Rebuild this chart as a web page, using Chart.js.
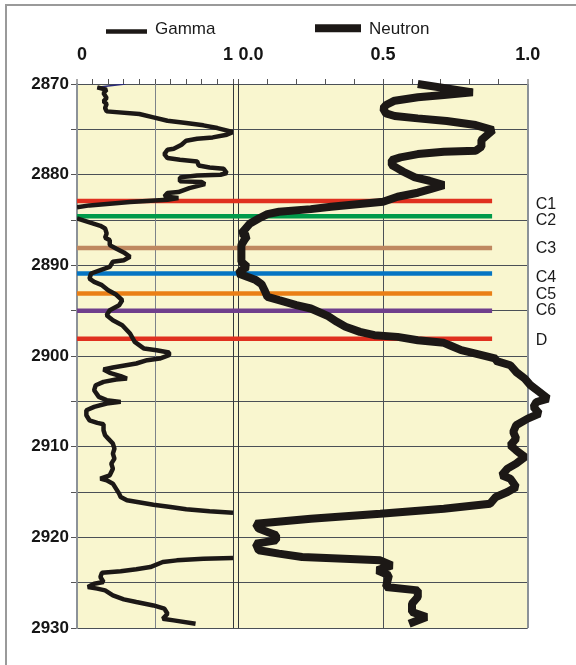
<!DOCTYPE html>
<html>
<head>
<meta charset="utf-8">
<script src="https://cdn.jsdelivr.net/npm/chart.js@4.4.0/dist/chart.umd.min.js"></script>
<style>
  html, body { margin: 0; padding: 0; background: #fff; }
  #wrap { position: relative; width: 576px; height: 665px; overflow: hidden; }
  #frame { position: absolute; left: 5px; top: 4px; width: 620px; height: 720px; border: 2px solid #9a9a9a; box-sizing: border-box; }
  #log-chart { position: absolute; left: 0; top: 0; }
</style>
</head>
<body>
<div id="wrap">
  <div id="frame"></div>
  <canvas id="log-chart" width="576" height="665"></canvas>
</div>
<script>
// depth axis
const depthTicks = [2870, 2875, 2880, 2885, 2890, 2895, 2900, 2905, 2910, 2915, 2920, 2925, 2930];
const gammaTicks = [0, 0.1, 0.2, 0.3, 0.4, 0.5, 0.6, 0.7, 0.8, 0.9, 1];
const neutronTicks = [0, 0.1, 0.2, 0.3, 0.4, 0.5, 0.6, 0.7, 0.8, 0.9, 1];

// gamma log (null = off scale)
const gammaDepth = [
  2870.37, 2870.63, 2870.99, 2871.55, 2871.91, 2872.21, 2872.65, 2873.02, 2873.31, 2873.68,
  2874.05, 2874.30, 2874.56, 2874.86, 2875.30, 2875.59, 2875.89, 2876.03, 2876.25, 2876.70,
  2877.14, 2877.25, 2877.73, 2878.17, 2878.35, 2878.54, 2878.98, 2879.20, 2879.35, 2879.82,
  2880.01, 2880.08, 2880.30, 2880.74, 2880.82, 2881.04, 2881.48, 2881.92, 2882.03, 2882.40,
  2882.58, 2882.77, 2883.02, 2883.39, 2883.61, 2884.20,
  2884.83, 2885.27, 2885.64, 2885.93, 2886.48, 2886.96, 2887.22, 2887.77, 2888.14, 2888.58,
  2889.06, 2889.43, 2889.61, 2890.17, 2890.53, 2890.90, 2891.46, 2891.82, 2892.19, 2892.74,
  2893.22, 2893.85, 2894.40, 2894.95, 2895.50, 2896.05, 2896.60, 2897.52, 2898.44, 2899.18,
  2899.36, 2899.62, 2899.91, 2900.28, 2900.46, 2900.83, 2901.27, 2901.49, 2901.86, 2902.23,
  2902.49, 2902.60, 2902.85, 2903.22, 2903.77, 2904.51, 2904.87, 2905.06, 2905.24, 2905.61,
  2905.98, 2906.53, 2907.09, 2907.38, 2907.53, 2908.19, 2908.74, 2909.11, 2909.66, 2910.21,
  2910.77, 2911.32, 2911.87, 2912.43, 2913.16, 2913.53, 2913.71, 2914.08, 2914.63, 2915.18,
  2915.55, 2915.92, 2916.40, 2916.65, 2916.91, 2917.13, 2917.28, 2919.80,
  2922.28, 2922.35, 2922.54, 2922.72, 2923.28, 2923.53, 2923.75, 2923.90, 2924.38, 2924.93,
  2925.11, 2925.48, 2925.66, 2925.85, 2926.40, 2926.84, 2927.14, 2927.51, 2927.87, 2928.43,
  2928.98, 2929.16, 2929.53
];
const gammaValue = [
  0.13, 0.19, 0.17, 0.19, 0.17, 0.19, 0.18, 0.19, 0.40, 0.49,
  0.58, 0.70, 0.81, 0.90, 1.00, 0.96, 0.87, 0.77, 0.70, 0.67,
  0.62, 0.58, 0.56, 0.58, 0.66, 0.77, 0.78, 0.85, 0.94, 0.96,
  0.92, 0.77, 0.66, 0.66, 0.80, 0.82, 0.72, 0.65, 0.58, 0.56,
  0.65, 0.58, 0.34, 0.08, 0.00, null,
  0.00, 0.08, 0.15, 0.18, 0.19, 0.18, 0.21, 0.21, 0.25, 0.30,
  0.34, 0.30, 0.23, 0.21, 0.15, 0.09, 0.08, 0.11, 0.16, 0.20,
  0.25, 0.29, 0.27, 0.21, 0.19, 0.23, 0.29, 0.34, 0.37, 0.43,
  0.51, 0.59, 0.59, 0.53, 0.45, 0.38, 0.23, 0.17, 0.21, 0.28,
  0.32, 0.25, 0.17, 0.12, 0.11, 0.14, 0.19, 0.28, 0.19, 0.11,
  0.06, 0.06, 0.08, 0.13, 0.17, 0.17, 0.18, 0.20, 0.23, 0.24,
  0.23, 0.24, 0.22, 0.23, 0.21, 0.15, 0.19, 0.23, 0.25, 0.27,
  0.28, 0.32, 0.49, 0.60, 0.70, 0.85, 1.00, null,
  1.00, 0.81, 0.64, 0.55, 0.47, 0.38, 0.28, 0.16, 0.15, 0.17,
  0.11, 0.07, 0.13, 0.18, 0.23, 0.30, 0.38, 0.49, 0.56, 0.58,
  0.55, 0.62, 0.76
];
const gammaTopDepth = [2870.37, 2870.0];
const gammaTopValue = [0.13, 0.31];

// neutron log
const neutronDepth = [
  2870.00, 2870.92, 2871.21, 2871.47, 2871.84, 2872.32, 2872.69, 2873.24, 2873.53, 2873.79,
  2874.08, 2874.53, 2875.08, 2875.63, 2876.18, 2876.92, 2877.36, 2877.47, 2877.73, 2878.09,
  2878.39, 2878.94, 2879.31, 2879.68, 2880.30, 2880.67, 2881.15, 2881.63, 2881.99, 2882.44,
  2882.99, 2883.54, 2883.80, 2884.09, 2884.35, 2884.83, 2885.38, 2886.11, 2886.48, 2886.78,
  2887.22, 2887.77, 2888.32, 2889.06, 2889.61, 2890.16, 2890.53, 2890.90, 2891.27, 2891.63,
  2892.08, 2892.74, 2893.47, 2893.84, 2894.39, 2894.76, 2895.61, 2896.23, 2896.78, 2897.34,
  2897.70, 2897.89, 2898.26, 2898.55, 2898.81, 2899.36, 2899.73, 2900.28, 2900.54, 2901.02,
  2901.76, 2902.49, 2903.23, 2903.96, 2904.70, 2905.07, 2905.62, 2906.35, 2906.91, 2907.64,
  2908.38, 2909.11, 2909.85, 2910.40, 2911.14, 2911.87, 2912.42, 2913.16, 2913.53, 2914.45,
  2915.00, 2915.55, 2916.29, 2916.84, 2917.39, 2917.94, 2918.49, 2919.04, 2919.78, 2920.33,
  2920.69, 2921.43, 2921.80, 2922.17, 2922.54, 2923.09, 2923.64, 2924.19, 2925.48, 2925.85,
  2926.58, 2927.32, 2928.24, 2928.79, 2929.52
];
const neutronValue = [
  0.62, 0.81, 0.71, 0.62, 0.54, 0.51, 0.50, 0.51, 0.54, 0.62,
  0.72, 0.82, 0.88, 0.86, 0.84, 0.84, 0.82, 0.71, 0.62, 0.56,
  0.53, 0.53, 0.55, 0.57, 0.61, 0.66, 0.71, 0.66, 0.62, 0.55,
  0.50, 0.32, 0.25, 0.14, 0.10, 0.07, 0.04, 0.02, 0.01, 0.03,
  0.02, 0.01, 0.01, 0.01, 0.01, 0.03, 0.01, 0.00, 0.03, 0.06,
  0.08, 0.09, 0.10, 0.14, 0.20, 0.25, 0.31, 0.34, 0.37, 0.42,
  0.47, 0.55, 0.62, 0.71, 0.73, 0.77, 0.82, 0.89, 0.89, 0.94,
  0.96, 0.99, 1.01, 1.04, 1.07, 1.03, 1.02, 1.04, 1.00, 0.96,
  0.95, 0.96, 0.94, 0.96, 0.99, 0.96, 0.93, 0.91, 0.94, 0.96,
  0.93, 0.89, 0.87, 0.71, 0.49, 0.25, 0.06, 0.07, 0.13, 0.13,
  0.06, 0.07, 0.14, 0.22, 0.49, 0.53, 0.48, 0.52, 0.51, 0.62,
  0.62, 0.60, 0.60, 0.65, 0.59
];

// formation markers (length in fraction of the track width)
const markerNames = ['C1', 'C2', 'C3', 'C4', 'C5', 'C6', 'D'];
const markerDepths = [2882.9, 2884.6, 2888.1, 2890.9, 2893.1, 2895.0, 2898.1];
const labelDepths = [2883.25, 2885.1, 2888.2, 2891.3, 2893.2, 2895.0, 2898.3];
const markerEnd = 0.921;
const markerColors = ['#e0301f', '#009a4a', '#bf8860', '#0575c3', '#ea7f16', '#6f3f8c', '#e0301f'];

const boldFont = { family: "'Liberation Sans', Arial, sans-serif", size: 17, weight: 'bold' };
const topFont = { family: "'Liberation Sans', Arial, sans-serif", size: 18, weight: 'bold' };

function gridColour(value, edgeColour) {
  if (value === 0) return edgeColour[0];
  if (value === 0.5) return edgeColour[1];
  if (value === 1) return edgeColour[2];
  return 'rgba(0,0,0,0)';
}

// yellow track background
const trackBackground = {
  id: 'trackBackground',
  beforeDraw(chart) {
    const { ctx, chartArea: a } = chart;
    ctx.save();
    ctx.fillStyle = '#f9f6cf';
    ctx.fillRect(a.left, a.top, a.right - a.left, a.bottom - a.top);
    ctx.restore();
  }
};

// legend with line samples, placed above the tracks
const lineLegend = {
  id: 'lineLegend',
  afterDraw(chart) {
    const ctx = chart.ctx;
    const entries = [
      { ds: chart.data.datasets[0], x: 106, y: 31.5, len: 41, textY: 29.5 },
      { ds: chart.data.datasets[2], x: 315, y: 28.2, len: 46, textY: 29.5 }
    ];
    ctx.save();
    ctx.font = "17px 'Liberation Sans', Arial, sans-serif";
    ctx.textBaseline = 'middle';
    entries.forEach(e => {
      ctx.strokeStyle = e.ds.borderColor;
      ctx.lineWidth = e.ds.borderWidth;
      ctx.lineCap = 'butt';
      ctx.beginPath();
      ctx.moveTo(e.x, e.y);
      ctx.lineTo(e.x + e.len, e.y);
      ctx.stroke();
      ctx.fillStyle = '#1a1a1a';
      ctx.fillText(e.ds.label, e.x + e.len + 8, e.textY);
    });
    ctx.restore();
  }
};

const datasets = [
  {
    label: 'Gamma',
    data: gammaDepth.map((d, i) => ({ x: gammaValue[i], y: d })),
    xAxisID: 'xg', yAxisID: 'y',
    borderColor: '#1c1816', borderWidth: 4.5, borderJoinStyle: 'bevel',
    pointRadius: 0, spanGaps: false, order: 1
  },
  {
    label: 'GammaTop',
    data: gammaTopDepth.map((d, i) => ({ x: gammaTopValue[i], y: d })),
    xAxisID: 'xg', yAxisID: 'y',
    borderColor: '#2a2a7a', borderWidth: 1.5,
    pointRadius: 0, order: 1
  },
  {
    label: 'Neutron',
    data: neutronDepth.map((d, i) => ({ x: neutronValue[i], y: d })),
    xAxisID: 'xn', yAxisID: 'y',
    borderColor: '#1c1816', borderWidth: 8, borderJoinStyle: 'bevel',
    pointRadius: 0, clip: false, order: 1
  }
];

markerNames.forEach((name, i) => {
  datasets.push({
    label: name,
    data: [{ x: 0, y: markerDepths[i] }, { x: markerEnd, y: markerDepths[i] }],
    xAxisID: 'xm', yAxisID: 'y',
    borderColor: markerColors[i], borderWidth: 4.5,
    borderCapStyle: 'butt', pointRadius: 0, order: 2
  });
});

new Chart(document.getElementById('log-chart'), {
  type: 'line',
  data: { datasets: datasets },
  plugins: [trackBackground, lineLegend],
  options: {
    responsive: false,
    devicePixelRatio: 1,
    animation: false,
    indexAxis: 'y',
    layout: { padding: { left: 6, right: 0, top: 0, bottom: 37 } },
    plugins: {
      legend: { display: false },
      tooltip: { enabled: false }
    },
    scales: {
      y: {
        type: 'linear', position: 'left', reverse: true, min: 2870, max: 2930,
        afterBuildTicks: s => { s.ticks = depthTicks.map(v => ({ value: v })); },
        afterFit: s => { s.width = 71; },
        ticks: {
          font: boldFont, color: '#151515', padding: 2, autoSkip: false,
          callback: v => (v % 10 === 0 ? String(v) : '')
        },
        grid: { color: '#4b5056', lineWidth: 1, tickLength: 6, tickColor: '#555', tickWidth: 1 },
        border: { display: true, color: '#8c9298', width: 2 }
      },
      yr: {
        type: 'linear', position: 'right', reverse: true, min: 2870, max: 2930,
        afterBuildTicks: s => { s.ticks = labelDepths.map(v => ({ value: v })); },
        afterFit: s => { s.width = 48.3; },
        ticks: {
          font: { family: "'Liberation Sans', Arial, sans-serif", size: 16 },
          color: '#1a1a1a', padding: 8, autoSkip: false,
          callback: (v, i) => markerNames[i]
        },
        grid: { drawOnChartArea: false, drawTicks: false },
        border: { display: false }
      },
      xg: {
        type: 'linear', position: 'top', stack: 'tracks', stackWeight: 156, weight: 2,
        min: 0, max: 1,
        afterBuildTicks: s => { s.ticks = gammaTicks.map(v => ({ value: v })); },
        afterFit: s => { s.height = 84; },
        ticks: {
          font: topFont, color: '#151515', padding: 13, align: 'inner',
          autoSkip: false, maxRotation: 0,
          callback: v => (v === 0 ? '0' : v === 1 ? '1' : '')
        },
        grid: {
          color: ctx => gridColour(ctx.tick.value, ['#8c9298', '#7d8389', '#33373b']),
          lineWidth: ctx => (ctx.tick.value === 0 ? 2 : 1),
          tickLength: 5, tickColor: '#555', tickWidth: 1
        },
        border: { display: false }
      },
      xn: {
        type: 'linear', position: 'top', stack: 'tracks', stackWeight: 294.7, weight: 1,
        min: -0.019, max: 1,
        afterBuildTicks: s => { s.ticks = neutronTicks.map(v => ({ value: v })); },
        afterFit: s => { s.height = 84; },
        ticks: {
          font: topFont, color: '#151515', padding: 13, align: 'center',
          autoSkip: false, maxRotation: 0,
          callback: v => (v === 0 ? '     0.0' : v === 0.5 ? '0.5' : v === 1 ? '1.0' : '')
        },
        grid: {
          color: ctx => gridColour(ctx.tick.value, ['#33373b', '#4b5056', '#8c9298']),
          lineWidth: ctx => (ctx.tick.value === 1 ? 2 : 1),
          tickLength: 5, tickColor: '#555', tickWidth: 1
        },
        border: { display: false }
      },
      xm: {
        type: 'linear', position: 'top', display: false, min: 0, max: 1
      }
    }
  }
});
</script>
</body>
</html>
